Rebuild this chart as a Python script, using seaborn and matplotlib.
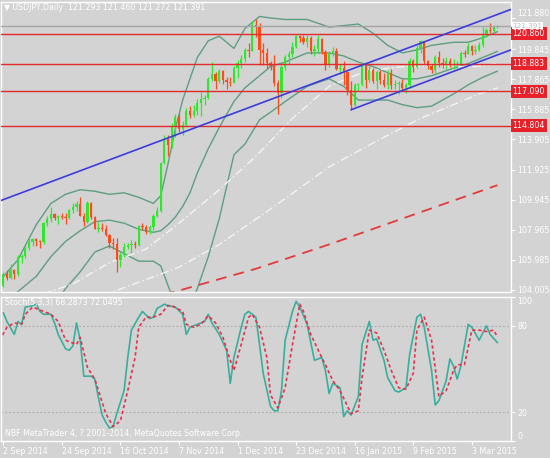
import numpy as np
import pandas as pd
import seaborn as sns
import matplotlib.pyplot as plt

# ---- data ----
dates = pd.bdate_range("2014-09-01", "2015-03-12")
dates = dates[~dates.isin(pd.to_datetime(["2014-12-25", "2015-01-01"]))]

opens = [104.08, 104.30, 105.08, 104.78, 105.30, 105.05, 106.15, 106.25, 106.80, 107.15,
         107.35, 107.20, 107.15, 108.40, 108.70, 109.00, 108.75, 108.85, 108.80, 108.75,
         109.30, 109.45, 109.65, 108.90, 108.45, 109.75, 108.80, 108.05, 108.10, 108.00,
         107.60, 107.10, 107.00, 105.95, 106.30, 106.85, 106.95, 107.05, 106.95, 108.20,
         108.15, 107.80, 108.15, 108.90, 109.20, 112.35, 113.95, 113.55, 114.70, 115.40,
         114.60, 114.85, 115.80, 115.50, 115.80, 116.30, 116.60, 116.65, 117.90, 118.20,
         117.75, 118.40, 117.80, 117.70, 117.65, 118.60, 118.95, 119.20, 119.80, 119.75,
         121.45, 121.35, 119.80, 119.60, 118.95, 118.75, 117.65, 116.95, 118.70, 119.30,
         119.50, 120.00, 120.70, 120.55, 120.35, 120.60, 119.75, 119.85, 120.50, 119.65,
         118.85, 119.60, 119.75, 118.55, 118.60, 118.35, 117.15, 116.20, 117.50, 117.55,
         118.80, 117.85, 118.50, 117.75, 118.35, 117.85, 117.50, 118.30, 117.50, 117.55,
         117.65, 117.30, 117.50, 119.10, 118.65, 119.95, 120.40, 119.05, 118.75, 118.50,
         119.30, 118.95, 118.90, 119.05, 118.80, 118.85, 118.90, 119.60, 119.55, 120.05,
         119.75, 119.80, 120.10, 120.75, 121.10, 121.05, 121.293]
highs = [104.35, 105.20, 105.30, 105.70, 105.40, 106.30, 106.40, 106.90, 107.40, 107.40,
         107.40, 107.30, 108.50, 108.90, 109.45, 109.10, 108.95, 109.10, 109.10, 109.35,
         109.75, 109.85, 110.09, 109.10, 109.85, 109.80, 108.90, 108.50, 108.40, 108.30,
         107.70, 107.40, 107.40, 106.50, 107.10, 107.10, 107.30, 107.25, 108.30, 108.40,
         108.30, 108.25, 109.00, 109.45, 112.45, 114.20, 114.20, 115.00, 115.55, 115.60,
         115.10, 116.00, 116.10, 116.15, 116.55, 117.05, 116.85, 118.00, 118.98, 118.35,
         118.55, 118.50, 118.00, 118.00, 118.75, 119.15, 119.45, 119.90, 120.25, 121.70,
         121.86, 121.60, 120.25, 119.90, 119.10, 119.45, 117.80, 118.80, 119.45, 119.70,
         120.30, 120.80, 120.80, 120.75, 120.75, 120.70, 120.15, 120.75, 120.60, 119.80,
         119.70, 120.00, 119.95, 118.90, 119.05, 118.40, 117.75, 117.60, 117.65, 118.95,
         118.90, 118.80, 118.60, 118.50, 118.45, 118.25, 118.45, 118.55, 117.85, 117.75,
         117.90, 117.60, 119.25, 119.20, 120.10, 120.48, 120.40, 119.15, 118.85, 119.45,
         119.70, 119.25, 119.30, 119.25, 119.20, 119.10, 119.75, 119.80, 120.25, 120.10,
         120.10, 120.30, 121.30, 121.25, 121.56, 121.40, 121.460]
lows = [104.05, 104.20, 104.65, 104.70, 104.70, 104.95, 105.80, 106.10, 106.65, 106.90,
        106.90, 106.80, 107.05, 108.20, 108.50, 108.60, 108.35, 108.65, 108.35, 108.70,
        109.10, 109.20, 108.85, 108.20, 108.40, 108.70, 108.00, 107.80, 107.90, 107.55,
        106.75, 106.70, 105.20, 105.50, 106.20, 106.70, 106.45, 106.80, 106.90, 107.95,
        107.70, 107.70, 107.95, 108.80, 109.15, 112.30, 112.80, 113.35, 114.10, 114.40,
        114.20, 114.80, 115.30, 115.40, 115.50, 115.45, 116.15, 116.55, 117.75, 117.25,
        117.60, 117.55, 117.25, 117.45, 117.60, 117.95, 118.60, 119.00, 119.30, 119.70,
        120.65, 118.80, 118.80, 118.60, 118.50, 117.40, 115.57, 116.65, 118.50, 118.85,
        119.30, 119.90, 120.30, 120.20, 120.00, 119.50, 119.40, 119.65, 119.50, 118.50,
        118.70, 119.40, 118.50, 118.20, 117.50, 116.85, 115.86, 116.10, 117.10, 117.40,
        117.30, 117.70, 117.60, 117.25, 117.55, 117.35, 117.20, 117.25, 117.20, 116.90,
        117.15, 116.95, 117.30, 118.35, 118.60, 119.60, 118.90, 118.55, 118.25, 118.15,
        118.70, 118.60, 118.55, 118.65, 118.55, 118.60, 118.85, 119.35, 119.50, 119.45,
        119.50, 119.70, 120.00, 120.65, 120.90, 120.95, 121.272]
closes = [104.30, 105.08, 104.78, 105.30, 105.05, 106.15, 106.25, 106.80, 107.15, 107.35,
          107.20, 107.15, 108.40, 108.70, 109.00, 108.75, 108.85, 108.80, 108.75, 109.30,
          109.45, 109.65, 108.90, 108.45, 109.75, 108.80, 108.05, 108.10, 108.00, 107.60,
          107.10, 107.00, 105.95, 106.30, 106.85, 106.95, 107.05, 106.95, 108.20, 108.15,
          107.80, 108.15, 108.90, 109.20, 112.35, 113.95, 113.55, 114.70, 115.40, 114.60,
          114.85, 115.80, 115.50, 115.80, 116.30, 116.60, 116.65, 117.90, 118.20, 117.75,
          118.40, 117.80, 117.70, 117.65, 118.60, 118.95, 119.20, 119.80, 119.75, 121.45,
          121.35, 119.80, 119.60, 118.95, 118.75, 117.65, 116.95, 118.70, 119.30, 119.50,
          120.00, 120.70, 120.55, 120.35, 120.60, 119.75, 119.85, 120.50, 119.65, 118.85,
          119.60, 119.75, 118.55, 118.60, 118.35, 117.15, 116.20, 117.50, 117.55, 118.80,
          117.85, 118.50, 117.75, 118.35, 117.85, 117.50, 118.30, 117.50, 117.55, 117.65,
          117.30, 117.50, 119.10, 118.65, 119.95, 120.40, 119.05, 118.75, 118.50, 119.30,
          118.95, 118.90, 119.05, 118.80, 118.85, 118.90, 119.60, 119.55, 120.05, 119.75,
          119.80, 120.10, 120.75, 121.10, 121.05, 121.29, 121.391]

# Bollinger bands, sampled at bar numbers
bb_bar = [0, 5, 10, 14, 18, 22, 26, 30, 34, 38, 42, 44, 46, 48, 50, 52, 54, 57, 60,
          64, 67, 71, 74, 78, 84, 90, 94, 98, 102, 106, 110, 114, 118, 124, 128, 132, 136]
bb_upper = [104.6, 106.0, 108.3, 109.7, 110.3, 110.6, 110.5, 110.3, 110.4, 110.1, 109.7,
            110.2, 112.3, 114.6, 116.5, 117.9, 119.3, 120.4, 120.7, 119.9, 121.2, 122.0,
            121.9, 121.8, 121.8, 121.3, 121.4, 121.5, 120.9, 120.1, 119.6, 119.8, 120.1,
            120.3, 120.3, 120.6, 121.0]
bb_mid = [103.0, 103.9, 104.9, 106.2, 107.2, 107.9, 108.5, 108.6, 108.4, 108.0, 107.8,
          107.9, 108.3, 108.8, 109.5, 110.4, 111.7, 113.3, 114.7, 116.4, 117.3, 118.1,
          118.7, 119.0, 119.6, 119.6, 119.4, 119.0, 118.7, 118.3, 117.9, 117.9, 118.1,
          118.6, 118.9, 119.3, 119.7]
bb_lower = [101.4, 101.8, 101.5, 102.7, 104.1, 105.2, 106.5, 106.9, 106.4, 105.9, 105.9,
            105.6, 104.3, 103.0, 102.5, 102.9, 104.1, 106.2, 108.7, 112.9, 113.6, 115.2,
            115.7, 116.4, 117.4, 117.9, 117.4, 116.5, 116.5, 116.5, 116.2, 116.0, 116.1,
            116.9, 117.5, 118.0, 118.4]

sma50_bar = [0, 10, 20, 30, 40, 49, 55, 60, 70, 80, 90, 100, 110, 120, 130, 136]
sma50 = [102.9, 103.6, 104.4, 105.8, 106.7, 108.4, 109.6, 110.6, 112.8, 115.3, 117.4,
         118.4, 118.7, 118.7, 118.7, 118.9]
sma100_bar = [20, 30, 49, 60, 75, 90, 103, 115, 131, 136]
sma100 = [103.4, 103.8, 105.5, 107.0, 109.5, 112.1, 113.8, 115.3, 116.9, 117.3]
sma200_bar = [40, 48, 70, 90, 110, 136]
sma200 = [103.5, 103.9, 105.4, 107.0, 108.7, 110.9]

levels = [120.860, 118.883, 117.090, 114.804]
bid = 121.391
trend_bar = [0, 136]
trend_price = [109.86, 122.13]
channel_start_bar = 96
channel_start_price = 115.86

price_ticks = [121.880, 119.845, 117.865, 115.885, 113.905, 111.925, 109.945,
               107.965, 105.985, 104.005]

# Stochastic %K and %D
k_bar = [1, 2, 4, 5, 6, 7, 9, 10, 11, 12, 14, 15, 16, 18, 19, 20, 21, 22, 23, 25, 26, 27,
         28, 29, 30, 31, 32, 34, 35, 36, 38, 39, 41, 42, 43, 45, 46, 48, 50, 51, 52, 54, 56,
         57, 58, 60, 62, 63, 64, 66, 67, 68, 70, 71, 72, 74, 75, 76, 77, 78, 80, 81, 82, 84,
         86, 87, 88, 89, 90, 91, 93, 94, 95, 96, 98, 99, 101, 102, 103, 105, 106, 108, 109,
         111, 112, 114, 115, 116, 118, 119, 120, 122, 123, 124, 125, 126, 128, 129, 131,
         133, 134, 136]
k_val = [89, 83, 74, 83, 81, 93, 94, 95, 90, 88, 88, 82, 74, 64, 63, 66, 82, 70, 45, 45,
         43, 30, 18, 13, 9, 10, 19, 35, 58, 77, 86, 90, 85, 86, 92, 95, 94, 93, 88, 74, 79,
         81, 83, 88, 82, 74, 63, 40, 58, 79, 88, 90, 86, 67, 47, 24, 21, 21, 35, 70, 90, 97,
         93, 81, 56, 57, 58, 49, 33, 40, 37, 17, 21, 18, 31, 67, 83, 70, 71, 56, 44, 35, 34,
         37, 60, 86, 88, 79, 49, 25, 28, 42, 57, 52, 43, 52, 81, 79, 70, 80, 74, 68.29]
d_bar = [0, 2, 4, 6, 7, 9, 12, 14, 16, 18, 21, 22, 24, 26, 27, 29, 31, 33, 35, 37, 38, 40,
         42, 44, 46, 47, 50, 51, 53, 55, 57, 59, 61, 63, 64, 66, 68, 69, 71, 73, 74, 76, 78,
         80, 82, 83, 85, 88, 89, 91, 93, 96, 98, 99, 101, 103, 105, 107, 109, 111, 113, 114,
         116, 118, 120, 122, 124, 125, 127, 129, 131, 133, 135, 136]
d_val = [70, 79, 82, 81, 88, 93, 90, 88, 83, 70, 67, 72, 51, 43, 35, 19, 10, 14, 35, 58,
         79, 86, 86, 88, 94, 94, 90, 81, 79, 81, 87, 82, 72, 56, 49, 67, 86, 88, 79, 58, 32,
         23, 37, 67, 95, 90, 74, 58, 53, 42, 35, 19, 21, 44, 77, 75, 63, 49, 37, 36, 47, 77,
         86, 70, 31, 35, 49, 53, 53, 77, 77, 76, 77, 72.05]

# ---- style ----
bg = "#d3d3d3"
sns.set_style("dark", {"axes.facecolor": bg, "figure.facecolor": bg,
                       "axes.edgecolor": "white"})
plt.rcParams["font.family"] = ["DejaVu Sans"]
fs = 5.7
W, H = 550, 458

fig = plt.figure(figsize=(5.5, 4.58), dpi=100)
ax1 = fig.add_axes([1 / W, 1 - 292 / H, 510 / W, 290 / H])
ax2 = fig.add_axes([1 / W, 1 - 441 / H, 510 / W, 144 / H])

for ax in (ax1, ax2):
    ax.set_facecolor(bg)
    for s in ax.spines.values():
        s.set_color("white")
        s.set_linewidth(1)
    ax.set_xlim(0.37, 139.7)
    ax.grid(False)

bars = np.arange(len(dates))
o = np.array(opens)
c = np.array(closes)
cols = np.where(c >= o, "#2ee82e", "#ff4a1a")

# ---- price panel ----
sns.lineplot(x=bb_bar, y=bb_upper, ax=ax1, color="#5e9e80", lw=1, zorder=2)
sns.lineplot(x=bb_bar, y=bb_mid, ax=ax1, color="#5e9e80", lw=1, zorder=2)
sns.lineplot(x=bb_bar, y=bb_lower, ax=ax1, color="#5e9e80", lw=1, zorder=2)
sns.lineplot(x=sma50_bar, y=sma50, ax=ax1, color="#f4f4f4", lw=1,
             linestyle=(0, (6, 2, 1, 2)), zorder=2)
sns.lineplot(x=sma100_bar, y=sma100, ax=ax1, color="#f4f4f4", lw=1,
             linestyle=(0, (6, 2, 1, 2)), zorder=2)
sns.lineplot(x=sma200_bar, y=sma200, ax=ax1, color="#e23a3a", lw=1.3,
             linestyle=(0, (6, 4)), zorder=2)

ax1.vlines(bars, lows, highs, colors=cols, lw=0.9, zorder=3)
ax1.bar(bars, np.maximum(np.abs(c - o), 0.03), bottom=np.minimum(o, c),
        width=0.62, color=cols, linewidth=0, zorder=3)

for lv in levels:
    ax1.axhline(lv, color="#e42a2a", lw=1, zorder=4)
ax1.axhline(bid, color="#a4a4a4", lw=1, zorder=4)

slope = (trend_price[1] - trend_price[0]) / (trend_bar[1] - trend_bar[0])
ax1.axline((trend_bar[0], trend_price[0]), slope=slope, color="#3c3cdc", lw=1.2, zorder=4)
ch_x = [channel_start_bar, 140]
ch_y = [channel_start_price, channel_start_price + slope * (140 - channel_start_bar)]
ax1.plot(ch_x, ch_y, color="#3c3cdc", lw=1.2, zorder=4)

ax1.set_ylim(103.873, 122.95)
ax1.set_xticks([])
ax1.yaxis.tick_right()
ax1.set_yticks(price_ticks)
ax1.set_yticklabels([f"{p:.3f}" for p in price_ticks])
ax1.tick_params(axis="y", right=True, left=False, length=3, width=0.8, color="white",
                labelcolor="white", labelsize=fs, pad=1.5, direction="out")
ax1.set_xlabel("")
ax1.set_ylabel("")
# top label sits just above its tick so the bid box below does not cover it
ax1.get_yticklabels()[0].set_va("bottom")

ytr = ax1.get_yaxis_transform()
for lv in levels:
    ax1.text(1.003, lv, f"{lv:.3f}", transform=ytr, color="white", fontsize=fs,
             va="center", ha="left", zorder=6, clip_on=False,
             bbox=dict(boxstyle="square,pad=0.25", fc="#e8202a", ec="none"))
ax1.text(1.003, bid, f"{bid:.3f}", transform=ytr, color="#bdbdbd", fontsize=5.2,
         va="center", ha="left", zorder=6, clip_on=False,
         bbox=dict(boxstyle="square,pad=0.05", fc="white", ec="none"))

ax1.text(3 / 510, 1 - 5 / 290, "\u25bc USDJPY,Daily  121.293 121.460 121.272 121.391",
         transform=ax1.transAxes, color="white", fontsize=fs, va="center", ha="left")

# ---- stochastic panel ----
ax2.axhline(80, color="#a9a9a9", lw=0.8, ls=(0, (1.5, 2)))
ax2.axhline(20, color="#a9a9a9", lw=0.8, ls=(0, (1.5, 2)))
sns.lineplot(x=k_bar, y=k_val, ax=ax2, color="#3aae9e", lw=1.2)
sns.lineplot(x=d_bar, y=d_val, ax=ax2, color="#e8304a", lw=1.2,
             linestyle=(0, (2, 1.6)))
ax2.set_ylim(0, 100)
ax2.yaxis.tick_right()
ax2.set_yticks([100, 80, 20, 0])
ax2.set_yticklabels(["100", "80", "20", "0"])
ax2.tick_params(axis="y", right=True, left=False, length=3, width=0.8, color="white",
                labelcolor="white", labelsize=fs, pad=1.5, direction="out")
lbls = ax2.get_yticklabels()
lbls[0].set_va("top")
lbls[3].set_va("bottom")

tick_dates = ["2014-09-02", "2014-09-24", "2014-10-16", "2014-11-07", "2014-12-01",
              "2014-12-23", "2015-01-16", "2015-02-09", "2015-03-03"]
tick_pos = [dates.get_loc(pd.Timestamp(d)) for d in tick_dates]
tick_lab = [f"{pd.Timestamp(d).day} {pd.Timestamp(d).strftime('%b %Y')}" for d in tick_dates]
ax2.set_xticks(tick_pos)
ax2.set_xticklabels(tick_lab, ha="left")
ax2.tick_params(axis="x", bottom=True, length=3, width=0.8, color="white",
                labelcolor="white", labelsize=fs, pad=1, direction="out")
ax2.set_xlabel("")
ax2.set_ylabel("")

ax2.text(4 / 510, 1 - 6 / 144, "Stoch(5,3,3) 68.2873 72.0495", transform=ax2.transAxes,
         color="white", fontsize=fs, va="center", ha="left")
ax2.text(4 / 510, 7 / 144, "NBF MetaTrader 4, ? 2001-2014, MetaQuotes Software Corp.",
         transform=ax2.transAxes, color="white", fontsize=fs, va="center", ha="left")

fig.savefig("out.png", dpi=100, facecolor=bg)
